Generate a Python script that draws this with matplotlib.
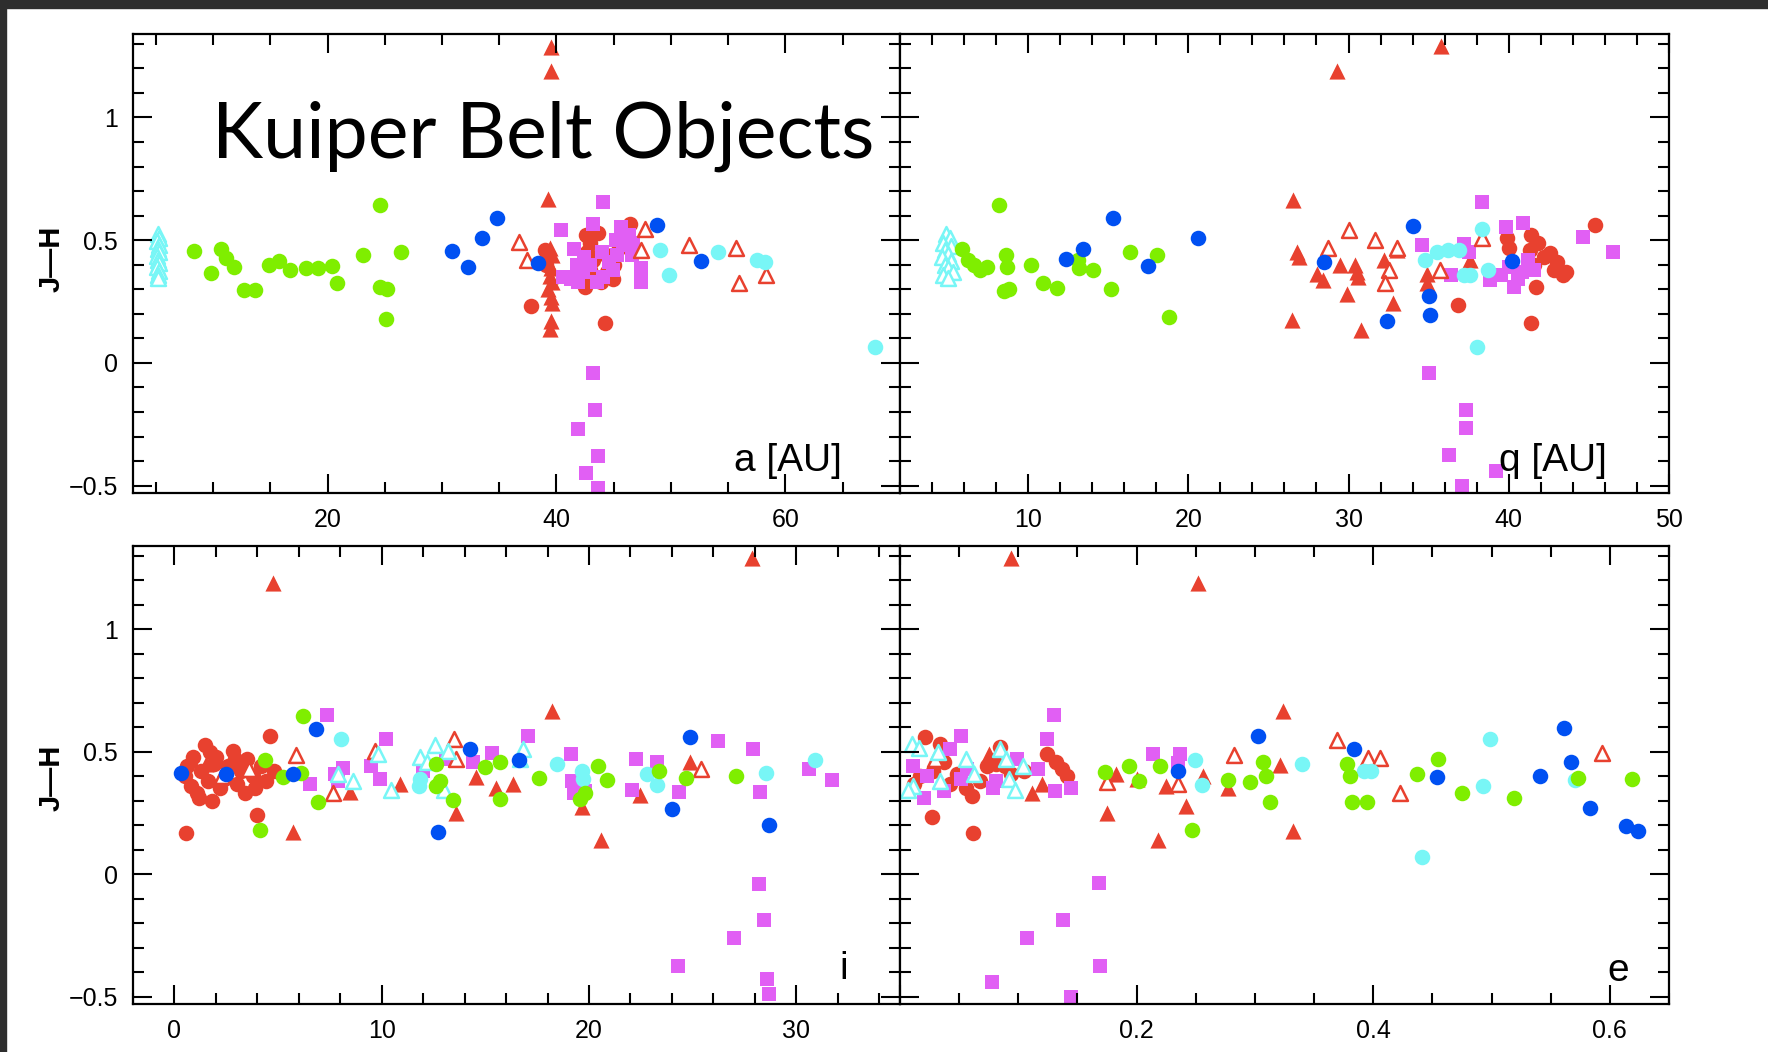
import matplotlib
matplotlib.use("Agg")
import matplotlib.pyplot as plt
from matplotlib.patches import Rectangle
from matplotlib.ticker import MultipleLocator, FixedLocator, FixedFormatter

# ---- data: (x, J-H) ----
# panel a [AU]
a_red_circ = [(39.0, 0.46), (39.3, 0.43), (39.1, 0.40), (37.8, 0.232), (44.2, 0.164), (42.6, 0.52),
              (42.9, 0.49), (42.7, 0.45), (43.2, 0.42), (42.9, 0.38), (43.1, 0.34), (42.5, 0.31),
              (43.9, 0.33), (44.4, 0.37), (44.9, 0.34), (45.0, 0.40), (45.5, 0.47), (46.0, 0.50),
              (46.4, 0.566), (45.8, 0.55), (44.3, 0.44), (43.6, 0.53)]
a_red_tri = [(39.5, 1.286), (39.5, 1.19), (39.3, 0.666), (39.4, 0.47), (39.6, 0.44), (39.3, 0.41),
             (39.5, 0.385), (39.4, 0.355), (39.6, 0.33), (39.3, 0.30), (39.5, 0.27), (39.6, 0.245),
             (39.5, 0.17), (39.4, 0.14)]
a_red_open = [(36.7, 0.493), (37.4, 0.42), (47.7, 0.547), (47.4, 0.46), (51.6, 0.48), (55.7, 0.47),
              (55.9, 0.326), (58.3, 0.358)]
a_mag = [(44.1, 0.656), (40.4, 0.54), (43.2, 0.565), (45.6, 0.554), (41.5, 0.463), (47.4, 0.385),
         (47.4, 0.33), (40.6, 0.35), (41.3, 0.34), (41.9, 0.33), (42.3, 0.37), (42.9, 0.40),
         (43.5, 0.33), (44.1, 0.35), (44.6, 0.41), (44.9, 0.38), (45.3, 0.44), (45.8, 0.48),
         (46.3, 0.52), (46.7, 0.49), (45.2, 0.50), (44.0, 0.45), (41.8, 0.40), (42.4, 0.43),
         (46.6, 0.44), (43.15, -0.042), (43.35, -0.193), (41.9, -0.27), (43.65, -0.379),
         (42.6, -0.449), (43.65, -0.51)]
a_cyan = [(49.0, 0.459), (49.8, 0.358), (54.1, 0.452), (57.5, 0.42), (58.2, 0.41), (67.8, 0.066)]
a_cyan_tri = [(5.2, 0.525), (5.3, 0.51), (5.1, 0.495), (5.25, 0.48), (5.15, 0.465), (5.3, 0.45),
              (5.1, 0.435), (5.2, 0.42), (5.25, 0.405), (5.1, 0.39), (5.3, 0.375), (5.2, 0.36),
              (5.15, 0.345)]
a_green = [(8.35, 0.456), (9.8, 0.367), (10.7, 0.466), (11.1, 0.427), (11.8, 0.39), (12.7, 0.297),
           (13.7, 0.297), (14.9, 0.40), (15.8, 0.416), (16.7, 0.38), (18.1, 0.385), (19.2, 0.385),
           (20.4, 0.394), (20.8, 0.324), (23.1, 0.44), (24.6, 0.642), (24.6, 0.31), (25.2, 0.30),
           (25.1, 0.179), (26.4, 0.45)]
a_blue = [(30.9, 0.456), (32.3, 0.392), (33.5, 0.507), (34.8, 0.592), (38.4, 0.405), (48.8, 0.56),
          (52.6, 0.416)]

# panel q [AU]
q_red_circ = [(36.85, 0.236), (41.4, 0.164), (45.4, 0.561), (39.9, 0.507), (40.0, 0.467), (41.4, 0.52),
              (41.3, 0.46), (41.7, 0.31), (42.6, 0.446), (43.0, 0.41), (43.4, 0.358), (42.8, 0.38),
              (41.6, 0.40), (41.8, 0.49), (42.2, 0.43), (43.6, 0.37)]
q_red_tri = [(35.8, 1.289), (29.3, 1.19), (26.55, 0.663), (26.76, 0.452), (26.9, 0.43), (26.45, 0.175),
             (28.05, 0.364), (28.4, 0.337), (29.47, 0.398), (29.9, 0.28), (30.4, 0.398), (30.6, 0.351),
             (30.5, 0.37), (30.8, 0.134), (32.2, 0.419), (32.8, 0.243), (33.0, 0.46), (34.88, 0.364),
             (34.88, 0.324), (37.6, 0.419)]
q_red_open = [(30.0, 0.543), (28.7, 0.47), (31.65, 0.5), (33.0, 0.47), (32.5, 0.378), (32.3, 0.324),
              (38.3, 0.507), (35.7, 0.378)]
q_mag = [(38.3, 0.656), (34.6, 0.48), (39.8, 0.554), (40.9, 0.568), (44.65, 0.514), (46.5, 0.452),
         (37.2, 0.486), (37.5, 0.45), (36.4, 0.358), (38.8, 0.337), (40.3, 0.31), (40.0, 0.39),
         (40.8, 0.37), (41.6, 0.38), (39.5, 0.36), (40.6, 0.34), (41.2, 0.42), (35.0, -0.042),
         (37.3, -0.19), (37.3, -0.265), (36.3, -0.375), (39.2, -0.44), (37.1, -0.50)]
q_cyan = [(38.3, 0.547), (35.5, 0.45), (36.2, 0.46), (36.9, 0.46), (34.8, 0.42), (37.2, 0.358),
          (37.6, 0.36), (38.7, 0.38), (38.0, 0.066)]
q_cyan_tri = [(4.9, 0.525), (5.1, 0.51), (4.7, 0.49), (5.2, 0.475), (4.8, 0.46), (5.0, 0.445),
              (4.6, 0.43), (5.2, 0.415), (4.8, 0.40), (5.0, 0.385), (5.3, 0.37), (4.7, 0.36), (5.0, 0.345)]
q_green = [(8.2, 0.642), (5.85, 0.462), (6.27, 0.419), (7.0, 0.378), (7.41, 0.39), (8.62, 0.44),
           (8.7, 0.39), (8.5, 0.294), (8.8, 0.30), (10.2, 0.398), (10.95, 0.324), (11.8, 0.307),
           (13.1, 0.419), (13.2, 0.385), (14.05, 0.38), (15.15, 0.30), (16.35, 0.452), (18.06, 0.44),
           (18.8, 0.186), (6.6, 0.40)]
q_blue = [(15.3, 0.592), (13.4, 0.462), (12.36, 0.425), (17.5, 0.394), (20.6, 0.507), (34.0, 0.557),
          (28.47, 0.412), (32.38, 0.172), (35.04, 0.272), (35.08, 0.195), (40.18, 0.416)]

# panel i
i_red_circ = [(1.46, 0.526), (2.82, 0.505), (4.6, 0.564), (0.57, 0.167), (3.98, 0.241), (1.2, 0.31),
              (0.8, 0.36), (0.6, 0.44), (0.9, 0.48), (1.3, 0.42), (1.6, 0.38), (1.9, 0.45), (2.2, 0.35),
              (2.0, 0.48), (2.6, 0.44), (3.0, 0.37), (3.2, 0.42), (3.5, 0.47), (3.8, 0.40), (3.9, 0.35),
              (4.2, 0.44), (4.4, 0.38), (4.8, 0.42), (1.1, 0.33), (1.8, 0.30), (2.4, 0.39), (0.5, 0.40),
              (1.7, 0.50), (2.9, 0.47), (3.4, 0.33)]
i_red_tri = [(4.75, 1.19), (27.86, 1.289), (18.2, 0.668), (5.72, 0.173), (14.56, 0.397), (13.6, 0.248),
             (8.45, 0.336), (10.86, 0.37), (15.5, 0.35), (20.6, 0.14), (22.46, 0.322), (24.87, 0.458),
             (16.35, 0.37), (19.65, 0.275), (0.8, 0.47), (1.5, 0.45)]
i_red_open = [(5.88, 0.485), (7.65, 0.33), (9.66, 0.505), (13.5, 0.553), (13.6, 0.47), (25.4, 0.43),
              (2.3, 0.40), (3.6, 0.43)]
i_mag = [(7.37, 0.65), (10.2, 0.55), (6.52, 0.37), (7.73, 0.41), (8.13, 0.434), (9.5, 0.44), (9.9, 0.39),
         (12.0, 0.42), (13.1, 0.47), (14.4, 0.46), (15.3, 0.496), (17.07, 0.566), (19.13, 0.489),
         (19.2, 0.38), (19.3, 0.33), (19.8, 0.34), (22.26, 0.47), (23.26, 0.46), (22.06, 0.345),
         (24.36, 0.336), (26.2, 0.542), (27.9, 0.512), (28.25, 0.336), (30.6, 0.428), (31.7, 0.383),
         (7.9, 0.38), (28.2, -0.04), (28.46, -0.187), (27.0, -0.26), (24.3, -0.375), (28.6, -0.427),
         (28.7, -0.49)]
i_cyan = [(8.05, 0.553), (11.83, 0.39), (11.8, 0.36), (18.44, 0.451), (19.65, 0.42), (19.7, 0.39),
          (22.78, 0.41), (23.26, 0.363), (28.52, 0.413), (30.9, 0.467)]
i_cyan_tri = [(7.9, 0.41), (8.6, 0.38), (10.46, 0.343), (11.83, 0.48), (12.55, 0.526), (13.2, 0.505),
              (13.0, 0.345), (16.67, 0.47), (16.8, 0.51), (12.2, 0.46), (9.8, 0.49)]
i_green = [(6.2, 0.645), (4.35, 0.465), (5.24, 0.395), (6.09, 0.413), (6.92, 0.295), (4.11, 0.18),
           (12.63, 0.451), (12.8, 0.38), (12.6, 0.36), (13.43, 0.302), (14.96, 0.437), (15.7, 0.46),
           (15.7, 0.309), (17.6, 0.393), (20.45, 0.442), (20.85, 0.383), (23.4, 0.42), (24.7, 0.393),
           (27.1, 0.40), (19.56, 0.309), (19.8, 0.33)]
i_blue = [(0.33, 0.415), (2.5, 0.41), (6.81, 0.593), (14.24, 0.512), (12.7, 0.173), (5.72, 0.41),
          (24.87, 0.56), (24.0, 0.268), (28.7, 0.20), (16.6, 0.465)]

# panel e
e_red_circ = [(0.021, 0.56), (0.027, 0.235), (0.062, 0.167), (0.034, 0.533), (0.085, 0.52), (0.017, 0.40),
              (0.028, 0.42), (0.037, 0.46), (0.042, 0.37), (0.056, 0.35), (0.061, 0.32), (0.068, 0.38),
              (0.074, 0.44), (0.081, 0.45), (0.089, 0.44), (0.124, 0.49), (0.132, 0.46), (0.137, 0.43),
              (0.141, 0.40), (0.048, 0.41), (0.012, 0.37), (0.094, 0.41), (0.105, 0.42)]
e_red_tri = [(0.094, 1.289), (0.252, 1.19), (0.112, 0.33), (0.175, 0.248), (0.218, 0.14), (0.242, 0.28),
             (0.256, 0.40), (0.183, 0.41), (0.225, 0.36), (0.277, 0.35), (0.324, 0.668), (0.3325, 0.176),
             (0.321, 0.444), (0.075, 0.49), (0.12, 0.37), (0.2, 0.39)]
e_red_open = [(0.175, 0.378), (0.282, 0.485), (0.369, 0.546), (0.396, 0.474), (0.406, 0.474), (0.423, 0.33),
              (0.593, 0.496), (0.085, 0.51), (0.03, 0.47), (0.235, 0.37)]
e_mag = [(0.13, 0.65), (0.124, 0.553), (0.052, 0.566), (0.042, 0.51), (0.011, 0.44), (0.02, 0.31),
         (0.0225, 0.40), (0.037, 0.34), (0.052, 0.39), (0.079, 0.35), (0.081, 0.38), (0.099, 0.47),
         (0.117, 0.43), (0.131, 0.34), (0.145, 0.35), (0.214, 0.49), (0.237, 0.49), (0.057, 0.43),
         (0.235, 0.455), (0.168, -0.037), (0.138, -0.188), (0.107, -0.26), (0.1695, -0.376),
         (0.078, -0.44), (0.145, -0.50)]
e_cyan = [(0.249, 0.465), (0.255, 0.363), (0.3396, 0.451), (0.392, 0.42), (0.398, 0.42), (0.441, 0.072),
          (0.4925, 0.36), (0.4987, 0.55), (0.5706, 0.383)]
e_cyan_tri = [(0.01, 0.533), (0.016, 0.515), (0.011, 0.36), (0.007, 0.345), (0.032, 0.50), (0.034, 0.38),
              (0.056, 0.47), (0.063, 0.41), (0.085, 0.51), (0.09, 0.47), (0.092, 0.39), (0.097, 0.345),
              (0.104, 0.44)]
e_green = [(0.173, 0.417), (0.194, 0.44), (0.202, 0.38), (0.22, 0.44), (0.2775, 0.383), (0.296, 0.375),
           (0.307, 0.46), (0.309, 0.40), (0.313, 0.295), (0.247, 0.18), (0.378, 0.451), (0.38, 0.40),
           (0.382, 0.295), (0.3945, 0.295), (0.437, 0.41), (0.455, 0.47), (0.475, 0.33), (0.519, 0.312),
           (0.573, 0.393), (0.6185, 0.39)]
e_blue = [(0.303, 0.564), (0.235, 0.42), (0.384, 0.51), (0.4537, 0.397), (0.541, 0.40), (0.561, 0.596),
          (0.567, 0.46), (0.583, 0.271), (0.6137, 0.198), (0.624, 0.176)]

RED = "#e8412f"
MAG = "#e15ff4"
CYAN = "#78f6f6"
GREEN = "#7fee00"
BLUE = "#0050f2"

TICKFONT = ["Liberation Sans Narrow", "Liberation Sans"]


def draw(ax, red_circ, red_tri, mag, red_open, cyan, cyan_tri, green, blue):
    def sc(pts, **kw):
        xs = [p[0] for p in pts]
        ys = [p[1] for p in pts]
        ax.scatter(xs, ys, clip_on=True, **kw)
    sc(red_circ, marker="o", s=125, c=RED, linewidths=0)
    sc(red_tri, marker="^", s=135, c=RED, linewidths=0)
    sc(mag, marker="s", s=88, c=MAG, linewidths=0)
    sc(red_open, marker="^", s=115, facecolors="white", edgecolors=RED, linewidths=1.8)
    sc(cyan, marker="o", s=125, c=CYAN, linewidths=0)
    sc(cyan_tri, marker="^", s=115, facecolors="white", edgecolors=CYAN, linewidths=1.8)
    sc(green, marker="o", s=125, c=GREEN, linewidths=0)
    sc(blue, marker="o", s=125, c=BLUE, linewidths=0)


def style(ax, xlim, xmajor, xminor, xlabels, show_y):
    ax.set_xlim(*xlim)
    ax.set_ylim(-0.53, 1.34)
    ax.xaxis.set_major_locator(FixedLocator(xmajor))
    ax.xaxis.set_major_formatter(FixedFormatter(xlabels))
    ax.xaxis.set_minor_locator(MultipleLocator(xminor))
    ax.yaxis.set_major_locator(FixedLocator([-0.5, 0, 0.5, 1]))
    ax.yaxis.set_major_formatter(FixedFormatter(["\u22120.5", "0", "0.5", "1"]))
    ax.yaxis.set_minor_locator(MultipleLocator(0.1))
    ax.tick_params(which="both", direction="in", top=True, right=True, width=1.5,
                   labelsize=18, pad=11, labelfontfamily=TICKFONT, labelleft=show_y)
    ax.tick_params(which="major", length=14)
    ax.tick_params(which="minor", length=8)
    for sp in ax.spines.values():
        sp.set_linewidth(1.6)


fig = plt.figure(figsize=(17.68, 10.52), dpi=100)
fig.patch.set_facecolor("white")

ax_a = fig.add_axes([0.0752, 0.5314, 0.4338, 0.4363])
ax_q = fig.add_axes([0.5090, 0.5314, 0.4350, 0.4363])
ax_i = fig.add_axes([0.0752, 0.0456, 0.4338, 0.4354])
ax_e = fig.add_axes([0.5090, 0.0456, 0.4350, 0.4354])

draw(ax_a, a_red_circ, a_red_tri, a_mag, a_red_open, a_cyan, a_cyan_tri, a_green, a_blue)
draw(ax_q, q_red_circ, q_red_tri, q_mag, q_red_open, q_cyan, q_cyan_tri, q_green, q_blue)
draw(ax_i, i_red_circ, i_red_tri, i_mag, i_red_open, i_cyan, i_cyan_tri, i_green, i_blue)
draw(ax_e, e_red_circ, e_red_tri, e_mag, e_red_open, e_cyan, e_cyan_tri, e_green, e_blue)

style(ax_a, (3, 70), [20, 40, 60], 5, ["20", "40", "60"], True)
style(ax_q, (2, 50), [10, 20, 30, 40, 50], 2, ["10", "20", "30", "40", "50"], False)
style(ax_i, (-2, 35), [0, 10, 20, 30], 2, ["0", "10", "20", "30"], True)
style(ax_e, (0, 0.65), [0, 0.2, 0.4, 0.6], 0.05, ["", "0.2", "0.4", "0.6"], False)

# labels inside the panels
lab = dict(fontsize=28, family=TICKFONT, ha="right", va="baseline")
ax_a.text(0.924, 0.048, "a [AU]", transform=ax_a.transAxes, **lab)
ax_q.text(0.919, 0.048, "q [AU]", transform=ax_q.transAxes, **lab)
ax_i.text(0.932, 0.055, "i", transform=ax_i.transAxes, **lab)
ax_e.text(0.948, 0.05, "e", transform=ax_e.transAxes, **lab)

# J-H axis titles
for yc in (0.754, 0.2605):
    fig.text(0.029, yc, "J\u2014H", rotation=90, ha="center", va="center",
             fontsize=21, fontweight="bold", family=TICKFONT)

fig.text(212 / 1768, 1 - 158 / 1052, "Kuiper Belt Objects", fontsize=55.5, family="Lato",
         ha="left", va="baseline")

# dark frame of the screenshot
fig.patches.append(Rectangle((0, 1 - 8 / 1052), 1, 8 / 1052, transform=fig.transFigure,
                             color="#2e2e2e", zorder=10))
fig.patches.append(Rectangle((0, 0), 6 / 1768, 1, transform=fig.transFigure,
                             color="#2e2e2e", zorder=10))

fig.savefig("out.png", dpi=100)
